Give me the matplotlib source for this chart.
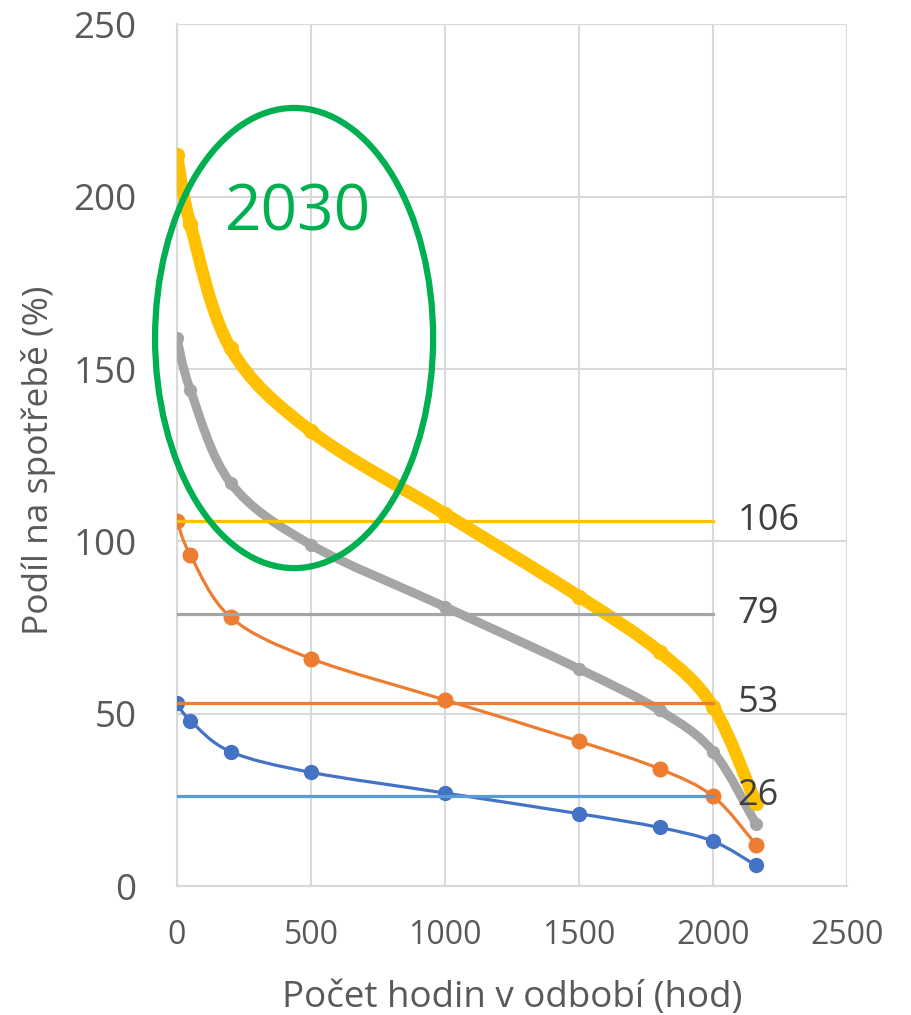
import numpy as np
import matplotlib.pyplot as plt
from matplotlib.path import Path
from matplotlib.patches import PathPatch, Ellipse

plt.rcParams['font.family'] = ['Open Sans', 'DejaVu Sans']

# hours in the period (duration curve), share of consumption in %
hours = [0, 50, 200, 500, 1000, 1500, 1800, 2000, 2160]
blue = [53, 48, 39, 33, 27, 21, 17, 13, 6]
orange = [106, 96, 78, 66, 54, 42, 34, 26, 12]
gray = [159, 144, 117, 99, 81, 63, 51, 39, 18]
yellow = [212, 192, 156, 132, 108, 84, 68, 52, 24]

# average levels, drawn as flat lines up to 2000 h
mean_levels = [106, 79, 53, 26]
mean_colors = ['#FFC000', '#A5A5A5', '#ED7D31', '#5B9BD5']
mean_end = 2000


def smooth_path(x, y):
    # Excel-like smoothed line: cubic Bezier through every point
    x = np.asarray(x, float)
    y = np.asarray(y, float)
    pts = np.column_stack([x, y])
    verts = [pts[0]]
    codes = [Path.MOVETO]
    n = len(pts)
    for i in range(n - 1):
        p0 = pts[i - 1] if i > 0 else pts[i]
        p1 = pts[i]
        p2 = pts[i + 1]
        p3 = pts[i + 2] if i + 2 < n else pts[i + 1]
        c1 = p1 + (p2 - p0) / 6.0
        c2 = p2 - (p3 - p1) / 6.0
        verts += [c1, c2, p2]
        codes += [Path.CURVE4] * 3
    return Path(verts, codes)


fig = plt.figure(figsize=(9.12, 10.15), dpi=100)
ax = fig.add_axes([0.194, 0.127, 0.735, 0.849])

ax.set_xlim(0, 2500)
ax.set_ylim(0, 250)
ax.set_xticks(range(0, 2501, 500))
ax.set_yticks(range(0, 251, 50))
ax.grid(True, color='#D9D9D9', linewidth=1.5, zorder=0)
ax.set_axisbelow(True)
for side in ['top', 'right']:
    ax.spines[side].set_visible(False)
for side in ['left', 'bottom']:
    ax.spines[side].set_color('#D9D9D9')
    ax.spines[side].set_linewidth(1.5)
ax.tick_params(length=0, labelcolor='#595959')
ax.tick_params(axis='y', pad=29, labelsize=26.5)
ax.tick_params(axis='x', pad=24, labelsize=23)

series = [
    (blue, '#4472C4', 2.3, 10),
    (orange, '#ED7D31', 2.3, 10.5),
    (gray, '#A5A5A5', 6.5, 8.5),
    (yellow, '#FFC000', 9, 10),
]
for vals, col, lw, ms in series:
    ax.add_patch(PathPatch(smooth_path(hours, vals), facecolor='none',
                           edgecolor=col, linewidth=lw, capstyle='round',
                           joinstyle='round', zorder=3))
    ax.plot(hours, vals, linestyle='none', marker='o', markersize=ms,
            color=col, zorder=3)

for lvl, col in zip(mean_levels, mean_colors):
    ax.plot([0, mean_end], [lvl, lvl], color=col, linewidth=2.3, zorder=4)
    ax.text(2090, lvl, str(lvl), fontsize=26, color='#404040',
            ha='left', va='center', zorder=6)

# highlight of the 2030 scenario
ax.add_patch(Ellipse((437, 159), 1037, 133.5, facecolor='none',
                     edgecolor='#00B050', linewidth=4.5, zorder=5,
                     clip_on=False))
ax.text(452, 195, '2030', fontsize=46, color='#00B050',
        ha='center', va='center', zorder=6)

ax.set_xlabel('Počet hodin v odbobí (hod)', fontsize=26.5, color='#595959',
              labelpad=20)
ax.set_ylabel('Podíl na spotřebě (%)', fontsize=25.5, color='#595959')
ax.yaxis.set_label_coords(-0.18, 0.494)

fig.savefig('out.png', dpi=100)
